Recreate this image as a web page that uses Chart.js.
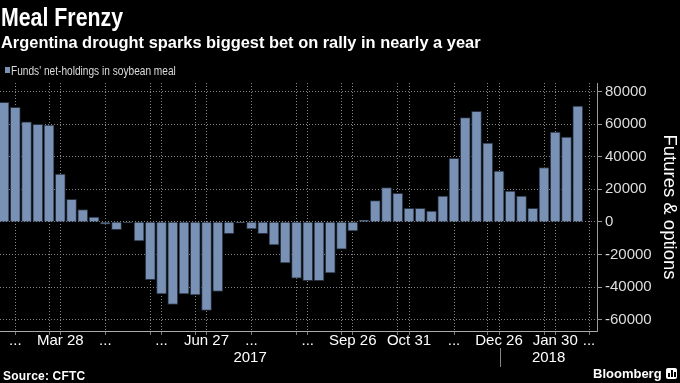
<!DOCTYPE html>
<html><head><meta charset="utf-8">
<script src="https://cdn.jsdelivr.net/npm/chart.js@4"></script>
<style>
html,body{margin:0;padding:0;background:#000;width:680px;height:383px;overflow:hidden;position:relative;color:#fff;font-family:"Liberation Sans",Arial,sans-serif}
#c{position:absolute;left:0;top:0}
.t{position:absolute;white-space:nowrap;line-height:1;transform-origin:0 0}
#title{left:1px;top:4px;font-weight:bold;font-size:26px;transform:scaleX(0.82)}
#sub{left:1px;top:34px;font-weight:bold;font-size:17px;transform:scaleX(0.965)}
#legsq{position:absolute;left:5px;top:67px;width:5px;height:6px;background:#7991b5}
#leg{left:11px;top:65px;font-size:12px;color:#ddd;transform:scaleX(0.845)}
#src{left:3px;top:370px;font-weight:bold;font-size:12px;letter-spacing:0.2px}
#bbg{left:593px;top:367px;font-weight:bold;font-size:13px}
#icon{position:absolute;left:666px;top:368px;width:11px;height:11px;background:#fff;border-radius:2px}
#icon i{position:absolute;bottom:2px;width:2px;background:#000}
</style></head>
<body>
<canvas id="c" width="680" height="383"></canvas>
<div class="t" id="title">Meal Frenzy</div>
<div class="t" id="sub">Argentina drought sparks biggest bet on rally in nearly a year</div>
<div id="legsq"></div>
<div class="t" id="leg">Funds' net-holdings in soybean meal</div>
<div class="t" id="src">Source: CFTC</div>
<div class="t" id="bbg">Bloomberg</div>
<div id="icon"><i style="left:2px;height:4px"></i><i style="left:5px;height:7px"></i><i style="left:8px;height:5px"></i></div>
<script>
// Weekly report dates (Tuesdays), Feb 21 2017 .. Feb 20 2018
const categories = ['Feb 21','Feb 28','Mar 7','Mar 14','Mar 21','Mar 28','Apr 4','Apr 11','Apr 18','Apr 25',
  'May 2','May 9','May 16','May 23','May 30','Jun 6','Jun 13','Jun 20','Jun 27','Jul 4',
  'Jul 11','Jul 18','Jul 25','Aug 1','Aug 8','Aug 15','Aug 22','Aug 29','Sep 5','Sep 12',
  'Sep 19','Sep 26','Oct 3','Oct 10','Oct 17','Oct 24','Oct 31','Nov 7','Nov 14','Nov 21',
  'Nov 28','Dec 5','Dec 12','Dec 19','Dec 26','Jan 2','Jan 9','Jan 16','Jan 23','Jan 30',
  'Feb 6','Feb 13','Feb 20'];
const netHoldings = [73400,70400,61500,59900,59500,29300,13900,7600,2900,-1400,
  -4700,-300,-11700,-35500,-44300,-50700,-44300,-44900,-54400,-42700,
  -7200,-600,-4300,-7200,-14200,-25200,-34500,-36100,-36100,-31400,
  -16800,-5500,1000,13100,21100,17600,8400,8400,6600,15800,
  39000,64000,67900,48400,31200,18900,15800,8400,33400,55200,
  52100,71200,null];
const tickDates = ['Feb 28','Mar 28','Apr 25','May 30','Jun 27','Jul 25','Aug 29','Sep 26','Oct 31','Nov 28','Dec 26','Jan 30','Feb 20'];
const tickTexts = ['...','Mar 28','...','...','Jun 27','...','...','Sep 26','Oct 31','...','Dec 26','Jan 30','...'];
const extraGridDates = ['Mar 21','May 23','Jun 20','Aug 22','Sep 19','Oct 24','Dec 19','Jan 23'];
const yearLabels = ['2017','2018'];
const yearBoundaryDate = 'Dec 26';
const yTickValues = [-60000,-40000,-20000,0,20000,40000,60000,80000];
const yMinorValues = [-60000,-50000,-40000,-30000,-20000,-10000,0,10000,20000,30000,40000,50000,60000,70000,80000];
const seriesName = "Funds' net-holdings in soybean meal";
const axisTitle = 'Futures & options';

const BAR = '#7991b5';
const GRID = '#858585';
const idx = d => categories.indexOf(d) + 1;
const gridVals = tickDates.concat(extraGridDates).map(idx).sort((a,b)=>a-b);

const yearPlugin = {
  id: 'years',
  afterDraw(chart) {
    const ctx = chart.ctx, xs = chart.scales.x, ca = chart.chartArea;
    const xd = xs.getPixelForValue(idx(yearBoundaryDate) + 0.1);
    ctx.save();
    ctx.strokeStyle = '#888'; ctx.lineWidth = 1;
    ctx.beginPath(); ctx.moveTo(Math.round(xd)+0.5, 348); ctx.lineTo(Math.round(xd)+0.5, 367); ctx.stroke();
    ctx.fillStyle = '#fff'; ctx.font = '15px "Liberation Sans", Arial, sans-serif';
    ctx.textAlign = 'center'; ctx.textBaseline = 'middle';
    ctx.fillText(yearLabels[0], (ca.left + xd) / 2, 358);
    ctx.fillText(yearLabels[1], (xd + ca.right) / 2, 358);
    ctx.restore();
  }
};

new Chart(document.getElementById('c'), {
  type: 'bar',
  data: {
    datasets: [{
      label: seriesName,
      data: netHoldings.map((v,i) => ({x: i + 1, y: v})),
      backgroundColor: BAR,
      borderColor: '#26303f',
      borderWidth: 1,
      barThickness: 10
    }]
  },
  options: {
    responsive: false,
    animation: false,
    layout: {padding: {top: 83, left: 0, right: 0, bottom: 0}},
    plugins: {legend: {display: false}, title: {display: false}, tooltip: {enabled: false}},
    scales: {
      x: {
        type: 'linear',
        offset: false,
        min: 0.64, max: 53.71,
        afterBuildTicks: s => { s.ticks = gridVals.map(v => ({value: v})); },
        afterFit: s => { s.height = 52; },
        ticks: {
          autoSkip: false, maxRotation: 0, color: '#fff', padding: -3,
          font: {family: '"Liberation Sans", Arial, sans-serif', size: 15},
          callback: v => { const k = tickDates.indexOf(categories[v-1]); return k >= 0 ? tickTexts[k] : ''; }
        },
        grid: {offset: false, color: GRID, lineWidth: 1, tickLength: 4, tickColor: '#777', drawTicks: true},
        border: {display: true, color: '#aaa', width: 1, dash: [1,2]}
      },
      y: {
        position: 'right',
        min: -67000, max: 85300,
        afterBuildTicks: s => { s.ticks = yMinorValues.map(v => ({value: v})); },
        afterFit: s => { s.width = 83; },
        ticks: {
          color: '#ddd', padding: 3,
          font: {family: '"Liberation Sans", Arial, sans-serif', size: 15},
          callback: v => yTickValues.includes(v) ? String(v) : ''
        },
        grid: {
          color: c => yTickValues.includes(c.tick && c.tick.value) ? GRID : 'rgba(0,0,0,0)',
          tickColor: '#999', tickLength: 5, drawTicks: true
        },
        border: {display: true, color: '#999', width: 1, dash: [1,2]},
        title: {
          display: true, text: axisTitle, color: '#fff',
          font: {family: '"Liberation Sans", Arial, sans-serif', size: 18.5},
          padding: {top: 0, bottom: 2}
        }
      }
    }
  },
  plugins: [yearPlugin]
});
</script>
</body></html>
